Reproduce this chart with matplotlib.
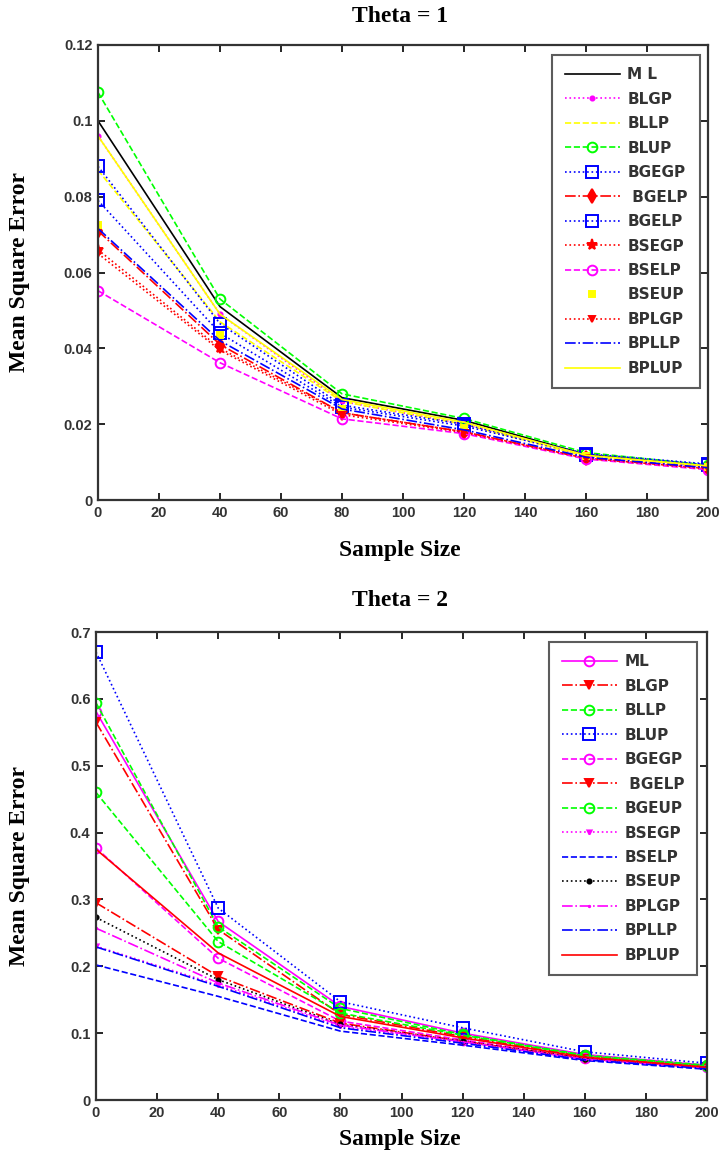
import matplotlib
matplotlib.use("Agg")
import matplotlib.pyplot as plt

# ---------------- data ----------------
sample_size = [0, 40, 80, 120, 160, 200]

# Theta = 1
t1_labels = ["M L", "BLGP", "BLLP", "BLUP", "BGEGP", " BGELP", "BGELP", "BSEGP",
             "BSELP", "BSEUP", "BPLGP", "BPLLP", "BPLUP"]
t1_ML    = [0.100, 0.051, 0.027, 0.0210, 0.0120, 0.0090]
t1_BLGP  = [0.096, 0.049, 0.026, 0.0200, 0.0115, 0.0088]
t1_BLLP  = [0.087, 0.047, 0.026, 0.0200, 0.0115, 0.0090]
t1_BLUP  = [0.1075, 0.053, 0.028, 0.0215, 0.0125, 0.0092]
t1_BGEGP = [0.088, 0.0465, 0.025, 0.0200, 0.0122, 0.0095]
t1_BGELP = [0.071, 0.041, 0.023, 0.0180, 0.0110, 0.0085]
t1_BGELP2 = [0.079, 0.044, 0.0245, 0.0195, 0.0120, 0.0093]
t1_BSEGP = [0.066, 0.040, 0.023, 0.0180, 0.0110, 0.0083]
t1_BSELP = [0.0552, 0.0362, 0.0214, 0.0175, 0.0108, 0.0080]
t1_BSEUP = [0.0725, 0.0435, 0.024, 0.0190, 0.0115, 0.0088]
t1_BPLGP = [0.065, 0.0395, 0.0225, 0.0178, 0.0110, 0.0082]
t1_BPLLP = [0.0716, 0.042, 0.024, 0.0185, 0.0113, 0.0085]
t1_BPLUP = [0.096, 0.049, 0.0265, 0.0205, 0.0118, 0.0090]

# Theta = 2
t2_labels = ["ML", "BLGP", "BLLP", "BLUP", "BGEGP", " BGELP", "BGEUP", "BSEGP",
             "BSELP", "BSEUP", "BPLGP", "BPLLP", "BPLUP"]
t2_ML    = [0.581, 0.267, 0.140, 0.100, 0.068, 0.052]
t2_BLGP  = [0.565, 0.255, 0.128, 0.095, 0.065, 0.050]
t2_BLLP  = [0.594, 0.259, 0.137, 0.098, 0.067, 0.052]
t2_BLUP  = [0.670, 0.287, 0.147, 0.108, 0.072, 0.055]
t2_BGEGP = [0.377, 0.212, 0.118, 0.090, 0.063, 0.049]
t2_BGELP = [0.295, 0.185, 0.115, 0.088, 0.062, 0.048]
t2_BGEUP = [0.460, 0.237, 0.130, 0.097, 0.066, 0.051]
t2_BSEGP = [0.230, 0.172, 0.110, 0.087, 0.061, 0.048]
t2_BSELP = [0.202, 0.155, 0.103, 0.082, 0.059, 0.046]
t2_BSEUP = [0.273, 0.180, 0.113, 0.088, 0.062, 0.048]
t2_BPLGP = [0.257, 0.175, 0.112, 0.087, 0.061, 0.048]
t2_BPLLP = [0.229, 0.170, 0.108, 0.085, 0.060, 0.047]
t2_BPLUP = [0.375, 0.220, 0.125, 0.093, 0.064, 0.049]

x_ticks = [0, 20, 40, 60, 80, 100, 120, 140, 160, 180, 200]
t1_yticks = [0, 0.02, 0.04, 0.06, 0.08, 0.1, 0.12]
t1_yticklabels = ["0", "0.02", "0.04", "0.06", "0.08", "0.1", "0.12"]
t2_yticks = [0, 0.1, 0.2, 0.3, 0.4, 0.5, 0.6, 0.7]
t2_yticklabels = ["0", "0.1", "0.2", "0.3", "0.4", "0.5", "0.6", "0.7"]

M = "#ff00ff"; Y = "#ffff00"; G = "#00ff00"; B = "#0000ff"; R = "#ff0000"; K = "#000000"

# styles: (color, linestyle, marker, markersize, filled)
t1_series = [
    (t1_ML,    K, "-",  None, 0, True),
    (t1_BLGP,  M, ":",  "o", 3, True),
    (t1_BLLP,  Y, "--", None, 0, True),
    (t1_BLUP,  G, "--", "o", 7, False),
    (t1_BGEGP, B, ":",  "s", 8, False),
    (t1_BGELP, R, "-.", "d", 7, True),
    (t1_BGELP2, B, ":", "s", 8, False),
    (t1_BSEGP, R, ":",  "*", 8, True),
    (t1_BSELP, M, "--", "o", 7, False),
    (t1_BSEUP, Y, "none", "s", 4, True),
    (t1_BPLGP, R, ":",  "v", 4, True),
    (t1_BPLLP, B, "-.", None, 0, True),
    (t1_BPLUP, Y, "-",  None, 0, True),
]
t2_series = [
    (t2_ML,    M, "-",  "o", 7, False),
    (t2_BLGP,  R, "-.", "v", 6, True),
    (t2_BLLP,  G, "--", "o", 7, False),
    (t2_BLUP,  B, ":",  "s", 8, False),
    (t2_BGEGP, M, "--", "o", 7, False),
    (t2_BGELP, R, "-.", "v", 6, True),
    (t2_BGEUP, G, "--", "o", 7, False),
    (t2_BSEGP, M, ":",  "v", 3, True),
    (t2_BSELP, B, "--", None, 0, True),
    (t2_BSEUP, K, ":",  "o", 3, True),
    (t2_BPLGP, M, "-.", ".", 2, True),
    (t2_BPLLP, B, "-.", None, 0, True),
    (t2_BPLUP, R, "-",  None, 0, True),
]

W, H = 724, 1156
fig = plt.figure(figsize=(W / 100, H / 100), dpi=100)

tickfont = {"family": "Liberation Sans", "size": 10.5, "weight": "bold"}
labelfont = {"family": "Liberation Serif", "size": 17, "weight": "bold"}


def draw(ax, series, labels, yticks, yticklabels, ylim, legend_box):
    for (vals, c, ls, mk, ms, filled), lab in zip(series, labels):
        kw = dict(color=c, linestyle=ls, linewidth=1.2, label=lab)
        if mk is not None:
            kw.update(marker=mk, markersize=ms, markeredgecolor=c,
                      markerfacecolor=c if filled else "none", markeredgewidth=1.4)
        ax.plot(sample_size, vals, **kw)
    ax.set_xlim(0, 200)
    ax.set_ylim(*ylim)
    ax.set_xticks(x_ticks)
    ax.set_xticklabels([str(v) for v in x_ticks], fontdict=tickfont, color="#333333")
    ax.set_yticks(yticks)
    ax.set_yticklabels(yticklabels, fontdict=tickfont, color="#333333")
    ax.tick_params(direction="in", top=True, right=True, length=5, width=1.2, pad=4)
    for s in ax.spines.values():
        s.set_linewidth(1.6)
        s.set_color("#333333")
    leg = ax.legend(loc="upper right", bbox_to_anchor=legend_box,
                    bbox_transform=fig.transFigure, frameon=True, fancybox=False,
                    edgecolor="#333333", handlelength=3.6, labelspacing=0.62,
                    borderpad=0.8, handletextpad=0.5, borderaxespad=0,
                    prop={"family": "DejaVu Sans", "size": 11, "weight": "bold"})
    leg.get_frame().set_linewidth(1.5)
    for t in leg.get_texts():
        t.set_color("#333333")


ax1 = fig.add_axes([98 / W, 1 - 500 / H, 610 / W, 455 / H])
draw(ax1, t1_series, t1_labels, t1_yticks, t1_yticklabels, (0, 0.12),
     (700 / W, 1 - 55 / H))
ax2 = fig.add_axes([96 / W, 1 - 1100 / H, 611 / W, 468 / H])
draw(ax2, t2_series, t2_labels, t2_yticks, t2_yticklabels, (0, 0.7),
     (697 / W, 1 - 642 / H))

fig.text(400 / W, 1 - 17 / H, "Theta = 1", ha="center", va="center", fontdict=labelfont)
fig.text(400 / W, 1 - 600 / H, "Theta = 2", ha="center", va="center", fontdict=labelfont)
fig.text(400 / W, 1 - 550 / H, "Sample Size", ha="center", va="center", fontdict=labelfont)
fig.text(400 / W, 1 - 1140 / H, "Sample Size", ha="center", va="center", fontdict=labelfont)
fig.text(20 / W, 1 - 272 / H, "Mean Square Error", ha="center", va="center",
         rotation=90, fontdict=labelfont)
fig.text(20 / W, 1 - 866 / H, "Mean Square Error", ha="center", va="center",
         rotation=90, fontdict=labelfont)

fig.savefig("out.png", dpi=100)
